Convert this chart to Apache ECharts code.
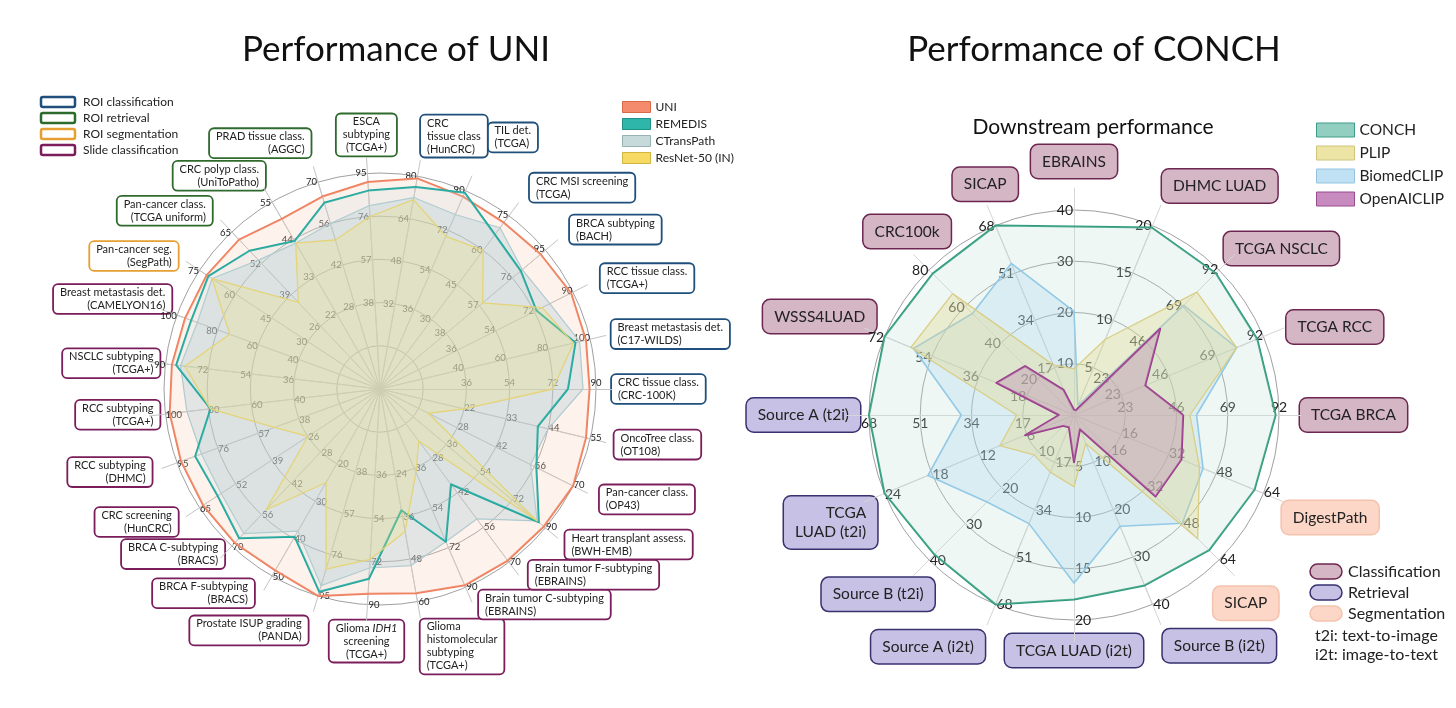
<!DOCTYPE html>
<html>
<head>
<meta charset="utf-8">
<script src="https://cdn.jsdelivr.net/npm/echarts@6/dist/echarts.min.js"></script>
<style>
  html, body { margin: 0; padding: 0; background: #fff; }
  #chart { width: 1456px; height: 708px; }
</style>
</head>
<body>
<div id="chart"></div>
<script>
// ---------- UNI panel: tasks listed counter-clockwise, starting at 3 o'clock ----------
const uniTasks = [
  'CRC tissue class.\n(CRC-100K)', 'Breast metastasis det.\n(C17-WILDS)', 'RCC tissue class.\n(TCGA+)',
  'BRCA subtyping\n(BACH)', 'CRC MSI screening\n(TCGA)', 'TIL det.\n(TCGA)', 'CRC\ntissue class\n(HunCRC)',
  'ESCA\nsubtyping\n(TCGA+)', 'PRAD tissue class.\n(AGGC)', 'CRC polyp class.\n(UniToPatho)',
  'Pan-cancer class.\n(TCGA uniform)', 'Pan-cancer seg.\n(SegPath)', 'Breast metastasis det.\n(CAMELYON16)',
  'NSCLC subtyping\n(TCGA+)', 'RCC subtyping\n(TCGA+)', 'RCC subtyping\n(DHMC)', 'CRC screening\n(HunCRC)',
  'BRCA C-subtyping\n(BRACS)', 'BRCA F-subtyping\n(BRACS)', 'Prostate ISUP grading\n(PANDA)',
  'Glioma {i|IDH1}\nscreening\n(TCGA+)', 'Glioma\nhistomolecular\nsubtyping\n(TCGA+)',
  'Brain tumor C-subtyping\n(EBRAINS)', 'Brain tumor F-subtyping\n(EBRAINS)',
  'Heart transplant assess.\n(BWH-EMB)', 'Pan-cancer class.\n(OP43)', 'OncoTree class.\n(OT108)'
];
const uniTaskType = [
  'roi', 'roi', 'roi', 'roi', 'roi', 'roi', 'roi',
  'ret', 'ret', 'ret', 'ret', 'seg',
  'slide', 'slide', 'slide', 'slide', 'slide', 'slide', 'slide', 'slide',
  'slide', 'slide', 'slide', 'slide', 'slide', 'slide', 'slide'
];
const uniAxisMax = [90, 100, 90, 95, 75, 90, 80, 95, 70, 55, 65, 75, 100, 90, 100, 95, 65, 70, 50, 95, 90, 60, 90, 70, 90, 70, 55];

const uniScores = [87.3, 98, 89.1, 92.2, 72, 87.3, 79.2, 91.2, 65.1, 50, 61.8, 72, 96, 87.3, 98, 93.1, 63.7, 68.6, 48.5, 95, 85.5, 57.6, 89.1, 69.3, 89.1, 70, 53.9];
const remedisScores = [78.3, 93, 72.9, 80.8, 66.8, 89.1, 76, 87.4, 63, 43.5, 57.2, 71.3, 93, 85.5, 79, 86.5, 58.5, 66.5, 39.5, 93.1, 79.2, 34.2, 69.3, 38.5, 86.4, 56.7, 41.3];
const ctranspathScores = [84.6, 95, 79.2, 81.7, 69.8, 79.2, 72, 80.8, 56, 42.9, 53.3, 69.8, 90, 83.7, 90, 83.6, 57.2, 64.4, 38, 90.3, 74.7, 49.8, 69.3, 52.5, 85.5, 54.6, 44];
const resnetScores = [72, 92, 75.6, 58.9, 60, 69.3, 71.2, 76, 50.4, 42.9, 35.8, 69.8, 74, 81.9, 79, 49.4, 26, 53.9, 25, 82.7, 71.1, 40.2, 37.8, 21, 85.5, 17.5, 22];

// ---------- CONCH panel: counter-clockwise from 3 o'clock ----------
const conchTasks = [
  'TCGA BRCA', 'TCGA RCC', 'TCGA NSCLC', 'DHMC LUAD', 'EBRAINS', 'SICAP', 'CRC100k', 'WSSS4LUAD',
  'Source A (t2i)', 'TCGA\nLUAD (t2i)', 'Source B (t2i)', 'Source A (i2t)', 'TCGA LUAD (i2t)', 'Source B (i2t)',
  'SICAP', 'DigestPath'
];
const conchTaskType = ['cls', 'cls', 'cls', 'cls', 'cls', 'cls', 'cls', 'cls', 'ret', 'ret', 'ret', 'ret', 'ret', 'ret', 'seg', 'seg'];
const conchAxisMax = [92, 92, 92, 20, 40, 68, 80, 72, 68, 24, 40, 68, 20, 40, 64, 64];

const conchScores = [90.5, 89, 90, 19.8, 36.8, 68, 78, 72, 68, 24, 38.5, 68, 18, 36, 59.7, 61];
const plipScores = [52, 79, 78, 8, 9, 18, 67, 62, 19, 9.4, 11, 20.5, 7, 6, 54.6, 42.4];
const biomedclipScores = [55, 79, 69.6, 1, 20.2, 54.4, 56, 61, 37.4, 18.5, 24, 39, 16.4, 23.5, 47.8, 43.6];
const openaiclipScores = [49, 34.6, 54.7, 0.5, 1, 9, 27, 29.5, 5, 6.2, 3, 4.4, 4.6, 3, 36, 36.3];

// ---------- name box placement (anchor side + distance from the outer ring) ----------
const uniNameAlign = ['left', 'left', 'left', 'left', 'left', 'left', 'left', 'center', 'right', 'right', 'right', 'right', 'right', 'right',
  'right', 'right', 'right', 'right', 'right', 'right', 'center', 'left', 'left', 'left', 'left', 'left', 'left'];
const uniNameVAlign = ['middle', 'middle', 'middle', 'middle', 'middle', 'middle', 'bottom', 'bottom', 'bottom', 'bottom', 'middle', 'middle',
  'bottom', 'middle', 'middle', 'middle', 'middle', 'middle', 'bottom', 'middle', 'top', 'top', 'bottom', 'bottom', 'middle', 'middle', 'middle'];
const uniNameGap = [16, 22, 31, 32, 35, 58, 20, 18, 26, 14, 29, 26, 6, 6, 6, 27, 26, 11, 36, 36, 16, 18, 34, 33, 26, 30, 25];

const conchNameAlign = ['left', 'left', 'left', 'left', 'center', 'center', 'center', 'right', 'right', 'right', 'center', 'right',
  'center', 'left', 'center', 'left'];
const conchNameVAlign = ['middle', 'middle', 'bottom', 'bottom', 'bottom', 'bottom', 'bottom', 'bottom', 'middle', 'top', 'bottom', 'top',
  'top', 'top', 'top', 'top'];
const conchNameGap = [21, 25, 7, 25, 32, 27, 31, 9, 9, 8, 72, 28, 14, 27, 38, 20];

const FONT = 'Lato, "Noto Sans", sans-serif';
const UNI_CENTER = [380, 389], UNI_R = 216;
const CONCH_CENTER = [1074, 415], CONCH_R = 205;

const chart = echarts.init(document.getElementById('chart'));

// one radar draws grid + tick labels, the others only draw the boxed task names of one type
function gridRadar(center, radius, maxes, splitNumber, labelSize, skip) {
  return {
    center: center, radius: radius, startAngle: 0, shape: 'circle', splitNumber: splitNumber,
    indicator: maxes.map(m => ({ name: '', min: 0, max: m })),
    axisName: { show: false },
    axisLine: { lineStyle: { color: '#c4c4c4', width: 1 } },
    splitLine: { lineStyle: { color: '#a0a0a0', width: 1 } },
    splitArea: { show: false },
    axisTick: { show: false },
    axisLabel: {
      show: true, margin: 1, fontSize: labelSize, color: '#222', fontFamily: FONT,
      formatter: (v, i) => (i < skip ? '' : Math.round(v))
    }
  };
}

// spokes only, a little longer than the grid so they poke out towards the task names
function spokeRadar(center, radius, count, color) {
  return {
    center: center, radius: radius, startAngle: 0, shape: 'circle',
    indicator: Array.from({ length: count }, () => ({ name: '', max: 1 })),
    axisName: { show: false },
    axisLine: { lineStyle: { color: color, width: 1 } },
    splitLine: { show: false }, splitArea: { show: false }, axisTick: { show: false }, axisLabel: { show: false }
  };
}

function nameRadar(center, radius, names, types, maxes, splitNumber, type, place, box) {
  return {
    center: center, radius: radius, startAngle: 0, shape: 'circle', splitNumber: splitNumber,
    indicator: maxes.map((m, i) => ({
      name: types[i] === type ? names[i] : '', min: 0, max: m,
      nameGap: place.gap[i],
      nameTextStyle: { align: place.align[i], verticalAlign: place.vAlign[i] }
    })),
    axisName: Object.assign({
      color: '#222', fontFamily: FONT,
      rich: { i: { fontStyle: 'italic', fontSize: box.fontSize, color: '#222', fontFamily: FONT } }
    }, box),
    axisLine: { show: false },
    splitLine: { show: false },
    splitArea: { show: false },
    axisTick: { show: false },
    axisLabel: { show: false }
  };
}

const uniPlace = { align: uniNameAlign, vAlign: uniNameVAlign, gap: uniNameGap };
const conchPlace = { align: conchNameAlign, vAlign: conchNameVAlign, gap: conchNameGap };

const uniBox = (border) => ({
  fontSize: 11, lineHeight: 13, backgroundColor: '#fff',
  borderColor: border, borderWidth: 1.8, borderRadius: 4, padding: [1, 6]
});
const conchBox = (fill, border) => ({
  fontSize: 15.5, lineHeight: 19, backgroundColor: fill,
  borderColor: border, borderWidth: 1.5, borderRadius: 7, padding: [7, 11]
});

const radars = [
  gridRadar(UNI_CENTER, UNI_R, uniAxisMax, 5, 9.5, 2),
  nameRadar(UNI_CENTER, UNI_R, uniTasks, uniTaskType, uniAxisMax, 5, 'roi', uniPlace, uniBox('#1f4f7a')),
  nameRadar(UNI_CENTER, UNI_R, uniTasks, uniTaskType, uniAxisMax, 5, 'ret', uniPlace, uniBox('#2f6a2d')),
  nameRadar(UNI_CENTER, UNI_R, uniTasks, uniTaskType, uniAxisMax, 5, 'seg', uniPlace, uniBox('#e6a032')),
  nameRadar(UNI_CENTER, UNI_R, uniTasks, uniTaskType, uniAxisMax, 5, 'slide', uniPlace, uniBox('#7a1d5a')),
  gridRadar(CONCH_CENTER, CONCH_R, conchAxisMax, 4, 14, 1),
  nameRadar(CONCH_CENTER, CONCH_R, conchTasks, conchTaskType, conchAxisMax, 4, 'cls', conchPlace, conchBox('#d5b6c5', '#6d2650')),
  nameRadar(CONCH_CENTER, CONCH_R, conchTasks, conchTaskType, conchAxisMax, 4, 'ret', conchPlace, conchBox('#c7c1e5', '#37316f')),
  nameRadar(CONCH_CENTER, CONCH_R, conchTasks, conchTaskType, conchAxisMax, 4, 'seg', conchPlace, conchBox('#fcd6c6', '#f4c3ae')),
  spokeRadar(UNI_CENTER, UNI_R + 16, uniTasks.length, '#c4c4c4'),
  spokeRadar(CONCH_CENTER, CONCH_R + 22, conchTasks.length, '#d6d6d6')
];

const txt = (x, y, text, size, extra) => ({
  type: 'text', x: x, y: y,
  style: Object.assign({ text: text, fontSize: size, fill: '#222', fontFamily: FONT, verticalAlign: 'middle' }, extra || {})
});

const option = {
  backgroundColor: '#fff',
  animation: false,
  radar: radars,
  legend: [
    {
      left: 617, top: 96, orient: 'vertical', icon: 'rect', itemWidth: 28, itemHeight: 11, itemGap: 5,
      selectedMode: false, textStyle: { fontSize: 12, color: '#222', fontFamily: FONT },
      data: [
        { name: 'UNI', itemStyle: { color: '#f38b6c', borderColor: '#d8694b', borderWidth: 1 } },
        { name: 'REMEDIS', itemStyle: { color: '#2fb6ab', borderColor: '#1d8f86', borderWidth: 1 } },
        { name: 'CTransPath', itemStyle: { color: '#c6dadb', borderColor: '#98b1b4', borderWidth: 1 } },
        { name: 'ResNet-50 (IN)', itemStyle: { color: '#f6da63', borderColor: '#d0b53f', borderWidth: 1 } }
      ]
    },
    {
      left: 1311, top: 117, orient: 'vertical', icon: 'rect', itemWidth: 38, itemHeight: 14, itemGap: 7,
      selectedMode: false, textStyle: { fontSize: 15.5, color: '#222', fontFamily: FONT },
      data: [
        { name: 'CONCH', itemStyle: { color: '#93cfc0', borderColor: '#3c9c88', borderWidth: 1 } },
        { name: 'PLIP', itemStyle: { color: '#ece5a6', borderColor: '#cfc57c', borderWidth: 1 } },
        { name: 'BiomedCLIP', itemStyle: { color: '#c0e0f3', borderColor: '#93c5e2', borderWidth: 1 } },
        { name: 'OpenAICLIP', itemStyle: { color: '#c78bc0', borderColor: '#9a4a90', borderWidth: 1 } }
      ]
    }
  ],
  series: [
    {
      type: 'radar', radarIndex: 0, symbol: 'none', silent: true,
      data: [
        { name: 'UNI', value: uniScores, itemStyle: { color: '#f38b6c' },
          lineStyle: { color: '#ee7d5a', width: 2 }, areaStyle: { color: 'rgba(250,200,182,0.35)' } },
        { name: 'CTransPath', value: ctranspathScores, itemStyle: { color: '#c6dadb' },
          lineStyle: { color: '#b3cbd0', width: 1.2 }, areaStyle: { color: 'rgba(168,202,208,0.45)' } },
        { name: 'REMEDIS', value: remedisScores, itemStyle: { color: '#2fb6ab' },
          lineStyle: { color: '#1fa89d', width: 2 }, areaStyle: { color: 'rgba(185,215,218,0.25)' } },
        { name: 'ResNet-50 (IN)', value: resnetScores, itemStyle: { color: '#f6da63' },
          lineStyle: { color: '#e3d27a', width: 1.3 }, areaStyle: { color: 'rgba(240,226,120,0.38)' } }
      ]
    },
    {
      type: 'radar', radarIndex: 5, symbol: 'none', silent: true,
      data: [
        { name: 'CONCH', value: conchScores, itemStyle: { color: '#93cfc0' },
          lineStyle: { color: '#2e9a7c', width: 2 }, areaStyle: { color: 'rgba(185,222,210,0.35)' } },
        { name: 'BiomedCLIP', value: biomedclipScores, itemStyle: { color: '#c0e0f3' },
          lineStyle: { color: '#8fc8e6', width: 1.6 }, areaStyle: { color: 'rgba(170,212,236,0.4)' } },
        { name: 'PLIP', value: plipScores, itemStyle: { color: '#ece5a6' },
          lineStyle: { color: '#d8cc84', width: 1.3 }, areaStyle: { color: 'rgba(228,214,140,0.5)' } },
        { name: 'OpenAICLIP', value: openaiclipScores, itemStyle: { color: '#c78bc0' },
          lineStyle: { color: '#9a3a8c', width: 2 }, areaStyle: { color: 'rgba(190,140,178,0.55)' } }
      ]
    }
  ],
  graphic: [
    txt(396, 50, 'Performance of UNI', 35, { fill: '#111', align: 'center' }),
    txt(1094, 50, 'Performance of CONCH', 35, { fill: '#111', align: 'center' }),
    txt(1093, 127, 'Downstream performance', 21, { fill: '#111', align: 'center' }),
    // task-type key, UNI panel
    { type: 'rect', shape: { x: 41, y: 97, width: 34, height: 10, r: 2 }, style: { fill: '#fff', stroke: '#1f4f7a', lineWidth: 2.5 } },
    { type: 'rect', shape: { x: 41, y: 113, width: 34, height: 10, r: 2 }, style: { fill: '#fff', stroke: '#2f6a2d', lineWidth: 2.5 } },
    { type: 'rect', shape: { x: 41, y: 129, width: 34, height: 10, r: 2 }, style: { fill: '#fff', stroke: '#e6a032', lineWidth: 2.5 } },
    { type: 'rect', shape: { x: 41, y: 145, width: 34, height: 10, r: 2 }, style: { fill: '#fff', stroke: '#7a1d5a', lineWidth: 2.5 } },
    txt(83, 102, 'ROI classification', 12),
    txt(83, 118, 'ROI retrieval', 12),
    txt(83, 134, 'ROI segmentation', 12),
    txt(83, 150, 'Slide classification', 12),
    // task-type key, CONCH panel
    { type: 'rect', shape: { x: 1310, y: 564, width: 32, height: 15, r: 7.5 }, style: { fill: '#d5b6c5', stroke: '#6d2650', lineWidth: 1.5 } },
    { type: 'rect', shape: { x: 1310, y: 585, width: 32, height: 15, r: 7.5 }, style: { fill: '#c7c1e5', stroke: '#37316f', lineWidth: 1.5 } },
    { type: 'rect', shape: { x: 1310, y: 606, width: 32, height: 15, r: 7.5 }, style: { fill: '#fcd6c6', stroke: '#f4c3ae', lineWidth: 1.5 } },
    txt(1348, 572, 'Classification', 16),
    txt(1348, 593, 'Retrieval', 16),
    txt(1348, 614, 'Segmentation', 16),
    txt(1315, 636, 't2i: text-to-image', 16),
    txt(1315, 655, 'i2t: image-to-text', 16)
  ]
};

chart.setOption(option);
</script>
</body>
</html>
